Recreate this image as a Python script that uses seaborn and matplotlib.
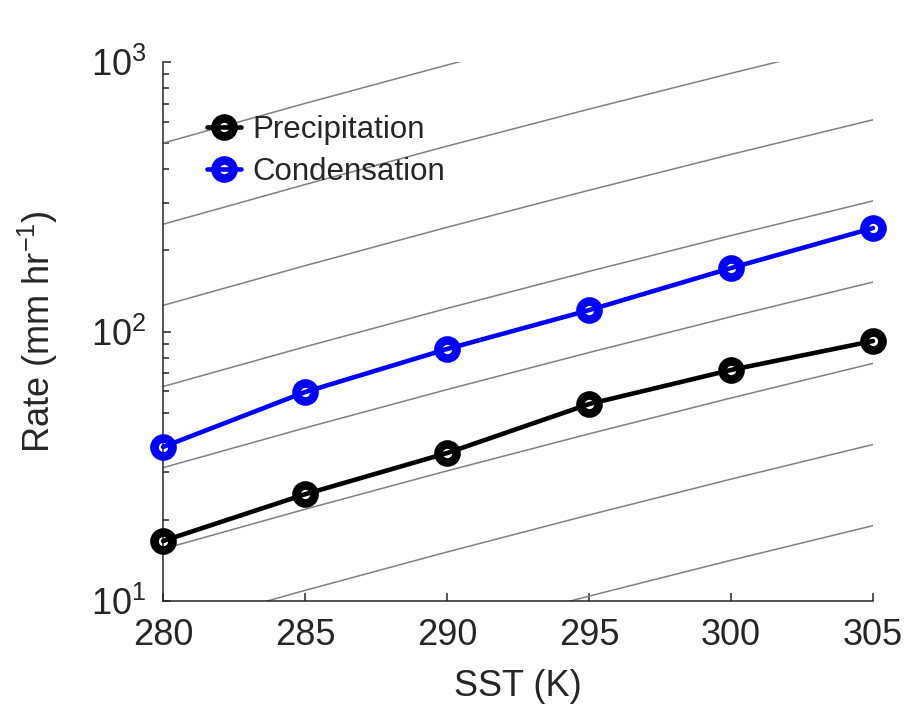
import numpy as np
import pandas as pd
import matplotlib
matplotlib.use("Agg")
import matplotlib.pyplot as plt
import seaborn as sns
from matplotlib.ticker import LogLocator, NullFormatter

# data
sst = [280, 285, 290, 295, 300, 305]
precipitation = [16.7, 24.9, 35.4, 53.8, 72.0, 92.2]
condensation = [37.3, 59.6, 86.1, 120.0, 172.0, 242.0]

# gray guide curves: value at 280 K times a Clausius-Clapeyron like factor
guide_base = [1000, 500, 250, 125, 62.5, 31.25, 15.6, 7.8, 3.9, 1.95]
guide_factor = [1.0, 1.404, 1.949, 2.674, 3.632, 4.883]

series = {"Precipitation": (precipitation, "black"),
          "Condensation": (condensation, "#0000ff")}

sns.set_style("ticks")
plt.rcParams["font.family"] = ["Liberation Sans", "DejaVu Sans"]
plt.rcParams["mathtext.default"] = "regular"

fig = plt.figure(figsize=(9.06, 7.06), dpi=100)
ax = fig.add_axes([0.180, 0.1487, 0.7836, 0.7635])

for b in guide_base:
    ax.plot(sst, [b * f for f in guide_factor], color="#808080", lw=1.1, zorder=1)

handles = []
for name, (vals, col) in series.items():
    sns.lineplot(x=sst, y=vals, color=col, ax=ax, legend=False)
    line = ax.get_lines()[-1]
    line.set_linestyle("-")
    line.set_linewidth(3.3)
    line.set_marker("o")
    line.set_markersize(13)
    line.set_markerfacecolor("none")
    line.set_markeredgecolor(col)
    line.set_markeredgewidth(6.2)
    line.set_clip_on(False)
    line.set_zorder(3)
    handles.append(line)

ax.set_yscale("log")
ax.set_xlim(280, 305)
ax.set_ylim(10, 1000)
ax.set_xticks(sst)
ax.yaxis.set_major_locator(LogLocator(base=10, numticks=5))
ax.yaxis.set_minor_locator(LogLocator(base=10, subs=np.arange(2, 10), numticks=20))
ax.yaxis.set_minor_formatter(NullFormatter())

for s in ["top", "right"]:
    ax.spines[s].set_visible(False)
for s in ["left", "bottom"]:
    ax.spines[s].set_linewidth(1.1)
    ax.spines[s].set_color("#262626")

ax.tick_params(which="major", direction="in", length=6, width=1.1,
               labelsize=26, colors="#262626", pad=12)
ax.tick_params(which="minor", direction="in", length=4, width=1.1, colors="#262626")
ax.tick_params(axis="y", which="major", pad=12)

ax.set_xlabel("SST (K)", fontsize=26, color="#262626", labelpad=12)
ax.set_ylabel("Rate (mm hr$^{-1}$)", fontsize=26, color="#262626", labelpad=22)

ax.legend(handles, list(series.keys()), loc="upper left",
          bbox_to_anchor=(0.035, 0.937), frameon=False, fontsize=22.5,
          handlelength=1.1, handletextpad=0.35, labelspacing=0.4,
          borderaxespad=0.2)

fig.savefig("out.png", dpi=100)
